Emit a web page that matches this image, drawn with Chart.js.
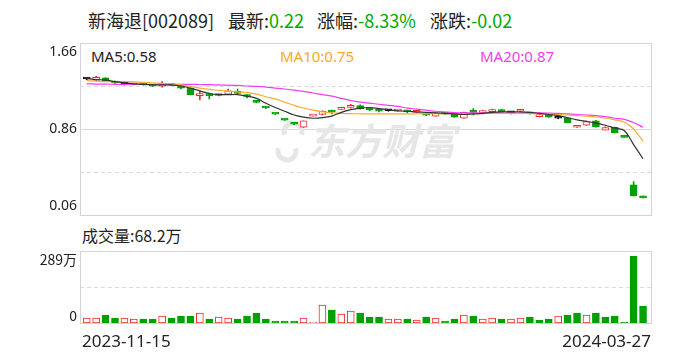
<!DOCTYPE html>
<html>
<head>
<meta charset="utf-8">
<script src="https://cdn.jsdelivr.net/npm/chart.js@4.4.1/dist/chart.umd.min.js"></script>
<style>
  body { margin: 0; background: #fff; width: 688px; height: 360px; overflow: hidden; position: relative;
         font-family: "Noto Sans CJK SC", "Noto Sans", sans-serif; }
  .t { position: absolute; white-space: nowrap; line-height: 1; }
  .g { color: #00a800; }
  canvas { position: absolute; left: 0; }
</style>
</head>
<body>
<div class="t" style="left:88px;top:11px;font-size:18px;color:#222">新海退[002089]</div>
<div class="t" style="left:228px;top:11px;font-size:18px;color:#222">最新:<span class="g">0.22</span></div>
<div class="t" style="left:317px;top:11px;font-size:18px;color:#222">涨幅:<span class="g">-8.33%</span></div>
<div class="t" style="left:430px;top:11px;font-size:18px;color:#222">涨跌:<span class="g">-0.02</span></div>

<div class="t" style="left:91px;top:49px;font-size:15px;color:#222;font-family:'Noto Sans'">MA5:0.58</div>
<div class="t" style="left:280px;top:49px;font-size:15px;color:#f7a928;font-family:'Noto Sans'">MA10:0.75</div>
<div class="t" style="left:480px;top:49px;font-size:15px;color:#f53cf5;font-family:'Noto Sans'">MA20:0.87</div>

<div class="t" style="left:82px;top:227px;font-size:16px;color:#222">成交量:68.2万</div>

<canvas id="kline" width="688" height="230" style="top:0"></canvas>
<canvas id="vol" width="688" height="120" style="top:240px"></canvas>

<script>
// daily K line, 2023-11-15 .. 2024-03-27
const opens  = [1.325,1.315,1.335,1.30,1.275,1.272,1.275,1.27,1.258,1.275,
                1.262,1.24,1.17,1.175,1.172,1.185,1.21,1.168,1.12,1.065,
                1.002,0.946,0.912,0.876,0.98,0.995,1.025,1.042,1.06,1.077,
                1.045,1.035,1.03,1.026,1.025,1.015,1.005,0.98,1.002,0.997,
                0.96,1.018,1.012,1.022,1.04,1.01,1.025,1.01,0.975,0.998,
                0.96,0.965,0.876,0.895,0.935,0.85,0.876,0.785,0.34,0.225];
const highs  = [1.335,1.35,1.338,1.305,1.282,1.285,1.28,1.272,1.30,1.278,
                1.265,1.242,1.21,1.195,1.18,1.232,1.232,1.18,1.122,1.066,
                1.004,0.948,0.914,0.935,0.982,1.03,1.035,1.05,1.09,1.085,
                1.055,1.04,1.035,1.034,1.035,1.025,1.008,1.012,1.005,1.0,
                1.018,1.05,1.03,1.045,1.042,1.02,1.04,1.012,0.995,1.0,
                0.965,0.968,0.89,0.935,0.94,0.88,0.878,0.787,0.37,0.235];
const lows   = [1.318,1.31,1.30,1.285,1.27,1.27,1.268,1.255,1.25,1.262,
                1.232,1.178,1.13,1.14,1.168,1.183,1.188,1.15,1.104,1.05,
                0.996,0.94,0.90,0.874,0.979,0.99,1.0,1.04,1.055,1.045,
                1.03,1.02,1.025,1.024,1.01,1.012,0.985,0.978,0.995,0.968,
                0.958,0.99,1.0,1.02,1.02,1.0,1.022,0.998,0.972,0.968,
                0.955,0.918,0.875,0.893,0.878,0.85,0.823,0.78,0.235,0.218];
const closes = [1.325,1.34,1.305,1.288,1.275,1.28,1.272,1.258,1.283,1.265,
                1.24,1.18,1.178,1.17,1.178,1.215,1.19,1.162,1.108,1.055,
                0.998,0.942,0.904,0.935,0.981,1.025,1.018,1.048,1.08,1.046,
                1.04,1.025,1.03,1.032,1.02,1.022,0.988,1.01,0.998,0.97,
                1.016,1.014,1.02,1.04,1.022,1.01,1.035,1.0,0.99,0.97,
                0.96,0.92,0.888,0.93,0.88,0.873,0.825,0.782,0.24,0.22];

const ma5  = [1.33,1.32,1.315,1.30,1.29,1.28,1.275,1.272,1.27,1.27,
              1.26,1.24,1.215,1.19,1.18,1.18,1.18,1.165,1.145,1.10,
              1.06,1.025,0.99,0.97,0.96,0.965,0.98,1.015,1.04,1.055,
              1.06,1.05,1.04,1.03,1.025,1.02,1.015,1.01,1.005,1.0,
              0.995,1.0,1.005,1.015,1.02,1.02,1.02,1.015,1.005,0.995,
              0.985,0.965,0.945,0.93,0.915,0.895,0.87,0.846,0.715,0.583];
const ma10 = [1.31,1.305,1.30,1.30,1.30,1.298,1.295,1.29,1.285,1.28,
              1.27,1.255,1.24,1.228,1.22,1.212,1.205,1.198,1.185,1.16,
              1.14,1.11,1.08,1.055,1.035,1.02,1.01,1.005,1.003,1.0,
              1.0,1.0,1.0,1.0,1.0,1.002,1.003,1.003,1.003,1.003,
              1.003,1.004,1.005,1.006,1.006,1.005,1.005,1.004,1.002,1.0,
              0.995,0.99,0.985,0.98,0.972,0.96,0.945,0.925,0.86,0.745];
const ma20 = [1.28,1.278,1.277,1.276,1.275,1.275,1.275,1.275,1.275,1.275,
              1.275,1.275,1.274,1.272,1.27,1.268,1.265,1.26,1.256,1.25,
              1.24,1.232,1.222,1.21,1.195,1.18,1.165,1.145,1.125,1.11,
              1.10,1.09,1.08,1.07,1.055,1.045,1.035,1.025,1.018,1.012,
              1.01,1.01,1.01,1.01,1.01,1.01,1.01,1.01,1.01,1.008,
              1.005,1.0,0.995,0.99,0.985,0.975,0.96,0.95,0.92,0.876];

// volume in 万, 1 = up day (red), 0 = down day (green)
const volumes = [20,20,32,20,20,16,16,16,28,20,
                 28,28,40,16,24,20,16,28,40,16,
                 8,8,8,20,4,72,52,36,48,40,
                 24,24,16,16,16,12,24,20,8,16,
                 32,28,16,20,16,16,20,24,12,16,
                 28,32,40,32,40,24,28,4,268,68.2];
const volUp = [1,1,0,0,1,1,0,0,1,0,
               0,0,1,0,1,1,0,0,0,0,
               0,0,0,1,1,1,0,1,1,0,
               0,0,1,1,0,1,0,1,0,0,
               1,0,1,1,0,1,1,0,0,0,
               1,0,0,1,0,0,0,0,0,0];

const priceTicks = [0.06, 0.86, 1.66];
const priceDashed = [0.46, 1.26];
const volTicks = [0, 289];
const volTickLabels = ['0', '289万'];
const dateLabels = ['2023-11-15', '2024-03-27'];

const RED = '#f0282d', GREEN = '#00a000', BLACK = '#111';

function candleColor(i) {
  if (closes[i] > opens[i]) return RED;
  if (closes[i] < opens[i]) return GREEN;
  return BLACK;
}

const xs = closes.map((_, i) => i);
const xScale = { type: 'linear', display: false, offset: false, min: -0.71, max: 59.95 };

function frame(ctx, area, dashedYs) {
  ctx.save();
  ctx.lineWidth = 1;
  ctx.setLineDash([4, 3]);
  ctx.strokeStyle = '#dcdcdc';
  dashedYs.forEach(y => {
    ctx.beginPath();
    ctx.moveTo(area.left, Math.round(y) + 0.5);
    ctx.lineTo(area.right, Math.round(y) + 0.5);
    ctx.stroke();
  });
  ctx.setLineDash([]);
  ctx.strokeStyle = '#d2d2da';
  ctx.strokeRect(area.left + 0.5, area.top + 0.5, area.right - area.left - 1, area.bottom - area.top);
  ctx.restore();
}

const klineDecor = {
  id: 'klineDecor',
  beforeDatasetsDraw(chart) {
    const { ctx, chartArea: a, scales: { y } } = chart;
    frame(ctx, a, priceDashed.map(v => y.getPixelForValue(v)));
    // solid middle line
    ctx.save();
    ctx.strokeStyle = '#d8d8d8';
    const my = Math.round(y.getPixelForValue(priceTicks[1])) + 0.5;
    ctx.beginPath(); ctx.moveTo(a.left, my); ctx.lineTo(a.right, my); ctx.stroke();
    // watermark
    ctx.fillStyle = '#e6e6e6';
    ctx.font = 'italic bold 37px "Noto Sans CJK SC"';
    ctx.textBaseline = 'middle';
    ctx.fillText('东方财富', 308, 141);
    ctx.lineWidth = 5;
    ctx.strokeStyle = '#e6e6e6';
    ctx.beginPath();
    ctx.arc(293, 132, 9, Math.PI * 0.9, Math.PI * 2.1);
    ctx.stroke();
    ctx.beginPath();
    ctx.arc(287, 151, 9, Math.PI * 1.9, Math.PI * 3.1);
    ctx.stroke();
    ctx.restore();
  },
  afterDraw(chart) {
    const { ctx, chartArea: a, scales: { y } } = chart;
    ctx.save();
    ctx.fillStyle = '#222';
    ctx.font = '14px "Noto Sans"';
    ctx.textAlign = 'right';
    ctx.textBaseline = 'middle';
    priceTicks.forEach((v, k) => {
      let py = y.getPixelForValue(v);
      if (k === 0) py -= 9;
      if (k === priceTicks.length - 1) py += 9;
      ctx.fillText(v.toFixed(2), a.left - 3, py);
    });
    ctx.restore();
  }
};

const volDecor = {
  id: 'volDecor',
  beforeDatasetsDraw(chart) {
    const { ctx, chartArea: a, scales: { y } } = chart;
    frame(ctx, a, [y.getPixelForValue(volTicks[1] / 2)]);
  },
  afterDraw(chart) {
    const { ctx, chartArea: a, scales: { y } } = chart;
    ctx.save();
    ctx.fillStyle = '#222';
    ctx.font = '14px "Noto Sans CJK SC"';
    ctx.textAlign = 'right';
    ctx.textBaseline = 'middle';
    ctx.fillText(volTickLabels[0], a.left - 3, y.getPixelForValue(volTicks[0]) - 7);
    ctx.fillText(volTickLabels[1], a.left - 3, y.getPixelForValue(volTicks[1]) + 9);
    ctx.font = '17px "Noto Sans"';
    ctx.textAlign = 'left';
    ctx.fillText(dateLabels[0], a.left + 2, a.bottom + 19);
    ctx.textAlign = 'right';
    ctx.fillText(dateLabels[1], a.right - 1, a.bottom + 19);
    ctx.restore();
  }
};

const lineDs = (data, color) => ({
  type: 'line',
  data: xs.map(i => ({ x: i, y: data[i] })),
  borderColor: color,
  borderWidth: 1.2,
  pointRadius: 0,
  tension: 0.35,
  order: 0
});

new Chart(document.getElementById('kline'), {
  type: 'bar',
  data: {
    datasets: [
      {
        data: xs.map(i => ({ x: i, y: [lows[i], highs[i]] })),
        backgroundColor: xs.map(candleColor),
        barThickness: 1,
        grouped: false,
        order: 3
      },
      {
        data: xs.map(i => ({ x: i, y: [opens[i], closes[i]] })),
        backgroundColor: xs.map(i => closes[i] > opens[i] ? '#fff' : candleColor(i)),
        borderColor: xs.map(candleColor),
        borderWidth: 1,
        borderSkipped: false,
        barThickness: 7,
        minBarLength: 2,
        grouped: false,
        order: 2
      },
      lineDs(ma5, '#333333'),
      lineDs(ma10, '#f9ad2f'),
      lineDs(ma20, '#f53cf5')
    ]
  },
  options: {
    responsive: false,
    animation: false,
    events: [],
    layout: { padding: { left: 80, right: 36, top: 43, bottom: 15 } },
    plugins: { legend: { display: false }, tooltip: { enabled: false } },
    scales: {
      x: xScale,
      y: { display: false, min: priceTicks[0], max: priceTicks[priceTicks.length - 1] }
    }
  },
  plugins: [klineDecor]
});

new Chart(document.getElementById('vol'), {
  type: 'bar',
  data: {
    datasets: [{
      data: xs.map(i => ({ x: i, y: volumes[i] })),
      backgroundColor: xs.map(i => volUp[i] ? '#fff' : GREEN),
      borderColor: xs.map(i => volUp[i] ? RED : GREEN),
      borderWidth: 1,
      borderSkipped: false,
      barThickness: 7,
      grouped: false
    }]
  },
  options: {
    responsive: false,
    animation: false,
    events: [],
    layout: { padding: { left: 80, right: 36, top: 11, bottom: 37 } },
    plugins: { legend: { display: false }, tooltip: { enabled: false } },
    scales: {
      x: xScale,
      y: { display: false, min: volTicks[0], max: volTicks[1] }
    }
  },
  plugins: [volDecor]
});
</script>
</body>
</html>
